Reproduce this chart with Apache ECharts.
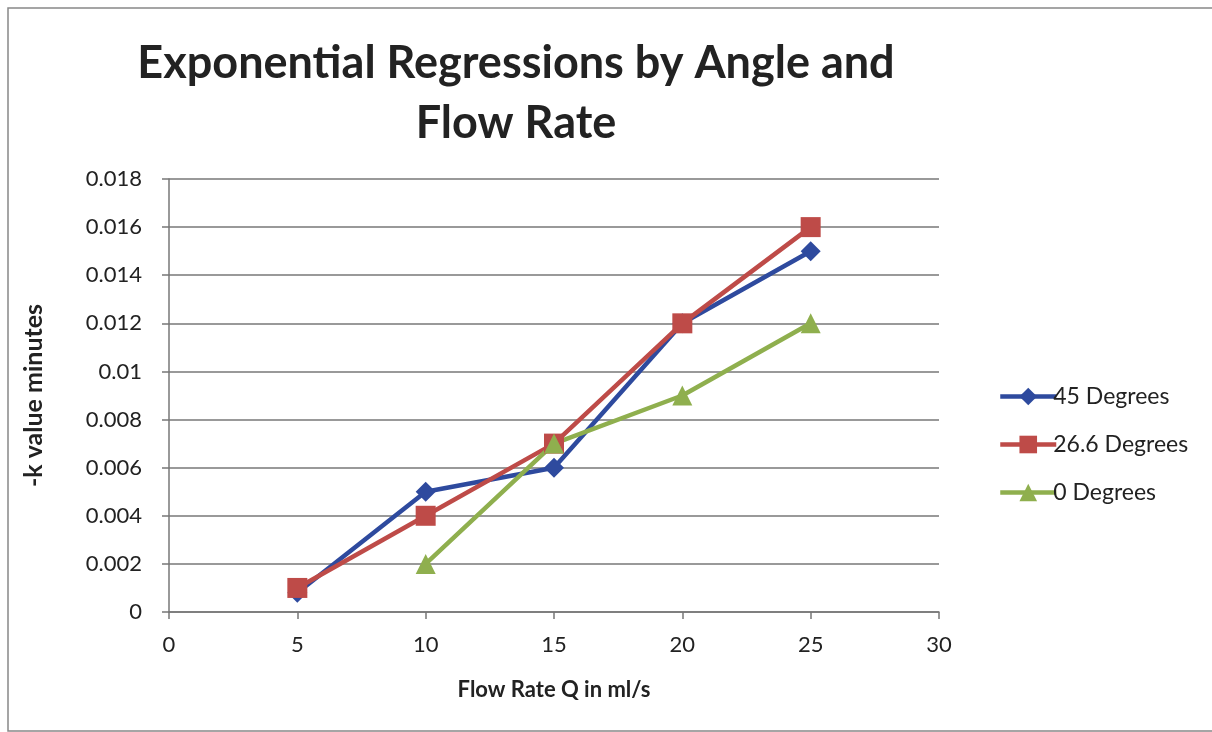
<!DOCTYPE html>
<html>
<head>
<meta charset="utf-8">
<script src="https://cdn.jsdelivr.net/npm/echarts@6/dist/echarts.min.js"></script>
<style>
  html, body { margin: 0; padding: 0; background: #fff; }
  #chart { width: 1212px; height: 732px; }
</style>
</head>
<body>
<div id="chart"></div>
<script>
// Flow rate (ml/s) against fitted -k values for three tilt angles
const flowRates45 = [5, 10, 15, 20, 25];
const kValues45 = [0.0008, 0.005, 0.006, 0.012, 0.015];

const flowRates266 = [5, 10, 15, 20, 25];
const kValues266 = [0.001, 0.004, 0.007, 0.012, 0.016];

const flowRates0 = [10, 15, 20, 25];
const kValues0 = [0.002, 0.007, 0.009, 0.012];

const seriesNames = ['45 Degrees', '26.6 Degrees', '0 Degrees'];
const titleText = 'Exponential Regressions by Angle and\nFlow Rate';
const xAxisTitle = 'Flow Rate Q in ml/s';
const yAxisTitle = '-k value minutes';

const pairs = (xs, ys) => xs.map((x, i) => [x, ys[i]]);

const FONT = 'Lato, "Open Sans", sans-serif';
const chart = echarts.init(document.getElementById('chart'));

const lineSeries = (name, data, color, symbol, size) => ({
  name,
  type: 'line',
  data,
  symbol,
  symbolSize: size,
  lineStyle: { color, width: 4.5 },
  itemStyle: { color },
  emphasis: { disabled: true },
  animation: false
});

chart.setOption({
  animation: false,
  title: {
    text: titleText,
    left: 511,
    top: 28,
    textAlign: 'center',
    textStyle: {
      fontFamily: FONT,
      fontWeight: 'bold',
      fontSize: 45,
      lineHeight: 60,
      color: '#222'
    }
  },
  graphic: [{
    type: 'rect',
    shape: { x: 8, y: 8, width: 1210, height: 723 },
    style: { fill: 'none', stroke: '#888', lineWidth: 1.5 },
    silent: true
  }],
  legend: {
    orient: 'vertical',
    left: 993,
    top: 380,
    itemGap: 25,
    itemWidth: 56,
    itemHeight: 22,
    lineStyle: { width: 4.5 },
    textStyle: { fontFamily: FONT, fontSize: 23, color: '#222', padding: [0, 0, 0, -8] },
    data: seriesNames
  },
  grid: { left: 169, right: 273, top: 179, bottom: 120 },
  xAxis: {
    type: 'value',
    min: 0,
    max: 30,
    interval: 5,
    name: xAxisTitle,
    nameLocation: 'middle',
    nameGap: 67,
    nameTextStyle: { fontFamily: FONT, fontWeight: 'bold', fontSize: 22, color: '#222' },
    axisLine: { onZero: false, lineStyle: { color: '#777', width: 1.5 } },
    axisTick: { show: true, length: 7, lineStyle: { color: '#777', width: 1.5 } },
    axisLabel: { fontFamily: FONT, fontSize: 22, color: '#222', margin: 22 },
    splitLine: { show: false }
  },
  yAxis: {
    type: 'value',
    min: 0,
    max: 0.018,
    interval: 0.002,
    name: yAxisTitle,
    nameLocation: 'middle',
    nameGap: 123,
    nameRotate: 90,
    nameTextStyle: { fontFamily: FONT, fontWeight: 'bold', fontSize: 25, color: '#222' },
    axisLine: { show: true, lineStyle: { color: '#777', width: 1.5 } },
    axisTick: { show: true, length: 7, lineStyle: { color: '#777', width: 1.5 } },
    axisLabel: {
      fontFamily: FONT, fontSize: 22, color: '#222', margin: 27,
      formatter: v => String(parseFloat(v.toFixed(3)))
    },
    splitLine: { show: true, lineStyle: { color: '#777', width: 1.5 } }
  },
  series: [
    lineSeries(seriesNames[0], pairs(flowRates45, kValues45), '#2E4A9E', 'diamond', 20),
    lineSeries(seriesNames[1], pairs(flowRates266, kValues266), '#BE4B48', 'rect', 20),
    lineSeries(seriesNames[2], pairs(flowRates0, kValues0), '#8FAF4E', 'triangle', 20)
  ]
});
</script>
</body>
</html>
